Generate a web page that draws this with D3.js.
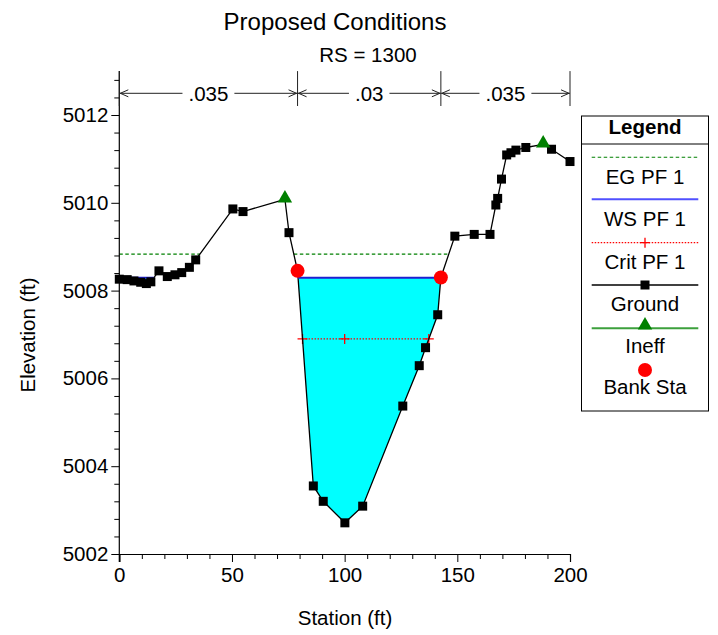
<!DOCTYPE html>
<html>
<head>
<meta charset="utf-8">
<script src="https://cdn.jsdelivr.net/npm/d3@7"></script>
<style>
  html, body { margin: 0; padding: 0; background: #fff; }
  svg { display: block; font-family: "Liberation Sans", Arial, sans-serif; }
</style>
</head>
<body>
<svg id="chart" width="718" height="635"></svg>
<script>
// Cross section RS 1300 – ground survey points (station ft, elevation ft)
const groundSta  = [0, 3.5, 6.5, 9.5, 12, 14, 17.6, 21.3, 24.7, 27.7, 31.1, 33.9, 50.4, 54.9,
                    73.5, 75.3, 79.1, 86.1, 90.5, 100.1, 108.0, 125.8, 133.1, 135.9, 141.3, 142.7,
                    148.9, 157.5, 164.5, 167.1, 167.9, 169.6, 171.9, 173.8, 176.0, 180.4, 188.1, 191.8, 200];
const groundElev = [5008.26, 5008.25, 5008.22, 5008.19, 5008.16, 5008.20, 5008.45, 5008.32, 5008.36, 5008.41, 5008.53, 5008.70, 5009.86, 5009.80,
                    5010.08, 5009.32, 5008.45, 5003.55, 5003.20, 5002.71, 5003.09, 5005.37, 5006.29, 5006.70, 5007.45, 5008.30,
                    5009.24, 5009.28, 5009.28, 5009.95, 5010.10, 5010.54, 5011.09, 5011.14, 5011.20, 5011.26, 5011.33, 5011.22, 5010.94];

// Ineffective flow limits and bank stations
const ineffSta = [73.5, 188.1];
const bankSta  = [79.1, 142.7];

// Profile PF 1 results
const egElev   = 5008.83;
const wsElev   = 5008.29;
const critElev = 5006.90;
const critMarkSta = 100;

// Manning's n by reach segment (boundaries at ends and bank stations)
const nBounds = [0, 79.1, 142.7, 200];
const nValues = [".035", ".03", ".035"];

// Axis ticks
const xMajor = [0, 50, 100, 150, 200];
const yMajor = [5002, 5004, 5006, 5008, 5010, 5012];

const title = "Proposed Conditions";
const subtitle = "RS = 1300";

const legendItems = ["EG PF 1", "WS PF 1", "Crit PF 1", "Ground", "Ineff", "Bank Sta"];

// ---------------------------------------------------------------
const FS = 20.5;
const svg = d3.select("#chart");
const margin = { left: 119.3, right: 570, top: 71.1, bottom: 554 };

const x = d3.scaleLinear().domain([0, 200]).range([margin.left, margin.right]);
const y = d3.scaleLinear().domain([5002, 5013]).range([margin.bottom, margin.top]);

const ground = groundSta.map((s, i) => ({ s, e: groundElev[i] }));

// Spans where the ground lies below a given water level
function wetSpans(level) {
  const spans = [];
  let cur = null;
  for (let i = 0; i < ground.length; i++) {
    const p = ground[i];
    if (p.e <= level) {
      if (!cur) {
        if (i === 0) cur = [{ s: p.s, e: p.e }];
        else {
          const q = ground[i - 1];
          const t = (level - q.e) / (p.e - q.e);
          cur = [{ s: q.s + t * (p.s - q.s), e: level }];
        }
      }
      cur.push(p);
    } else if (cur) {
      const q = ground[i - 1];
      const t = (level - q.e) / (p.e - q.e);
      cur.push({ s: q.s + t * (p.s - q.s), e: level });
      spans.push(cur);
      cur = null;
    }
  }
  if (cur) spans.push(cur);
  return spans;
}

const plot = svg.append("g");

// Water fill below WS
const wsSpans = wetSpans(wsElev);
wsSpans.forEach(sp => {
  const pts = sp.map(p => [x(p.s), y(p.e)]);
  plot.append("path")
    .attr("d", d3.line()(pts) + "Z")
    .attr("fill", "#00ffff")
    .attr("stroke", "none");
});

// EG line
wetSpans(egElev).forEach(sp => {
  plot.append("line")
    .attr("x1", x(sp[0].s)).attr("x2", x(sp[sp.length - 1].s))
    .attr("y1", y(egElev)).attr("y2", y(egElev))
    .attr("stroke", "#008000").attr("stroke-width", 1.1)
    .attr("stroke-dasharray", "3.5,2.5");
});

// Critical depth line with markers
wetSpans(critElev).forEach(sp => {
  const s0 = sp[0].s, s1 = sp[sp.length - 1].s;
  plot.append("line")
    .attr("x1", x(s0)).attr("x2", x(s1))
    .attr("y1", y(critElev)).attr("y2", y(critElev))
    .attr("stroke", "#ff0000").attr("stroke-width", 1.2)
    .attr("stroke-dasharray", "1.5,1.5");
  [s0, critMarkSta, s1].forEach(s => {
    plot.append("path")
      .attr("d", `M${x(s) - 5},${y(critElev)}h10M${x(s)},${y(critElev) - 5}v10`)
      .attr("stroke", "#ff0000").attr("stroke-width", 1.3);
  });
});

// Ground line
plot.append("path")
  .attr("d", d3.line().x(d => x(d.s)).y(d => y(d.e))(ground))
  .attr("fill", "none").attr("stroke", "#000").attr("stroke-width", 1.3);

// WS line
wsSpans.forEach(sp => {
  plot.append("line")
    .attr("x1", x(sp[0].s)).attr("x2", x(sp[sp.length - 1].s))
    .attr("y1", y(wsElev)).attr("y2", y(wsElev))
    .attr("stroke", "#1f1fd0").attr("stroke-width", 2);
});

// Ground point markers
const special = new Set([...ineffSta, ...bankSta]);
plot.selectAll("rect.gp")
  .data(ground.filter(d => !special.has(d.s)))
  .join("rect")
  .attr("class", "gp")
  .attr("x", d => x(d.s) - 4.5).attr("y", d => y(d.e) - 4.5)
  .attr("width", 9).attr("height", 9)
  .attr("fill", "#000");

function elevAt(s) {
  return ground.find(d => d.s === s).e;
}

// Ineffective flow markers
const tri = d3.symbol().type(d3.symbolTriangle).size(90);
plot.selectAll("path.ineff")
  .data(ineffSta)
  .join("path")
  .attr("class", "ineff")
  .attr("d", tri)
  .attr("transform", s => `translate(${x(s)},${y(elevAt(s)) - 1})`)
  .attr("fill", "#008000");

// Bank station markers
plot.selectAll("circle.bank")
  .data(bankSta)
  .join("circle")
  .attr("class", "bank")
  .attr("cx", s => x(s)).attr("cy", s => y(elevAt(s)))
  .attr("r", 7)
  .attr("fill", "#ff0000");

// Axes
const yAxis = svg.append("g")
  .attr("transform", `translate(${margin.left},0)`)
  .call(d3.axisLeft(y).tickValues(yMajor).tickSize(8).tickPadding(3).tickFormat(d3.format("d")));
const yMinor = d3.range(0, 28).map(i => 5002 + i * 0.4).filter(v => Math.abs(v - Math.round(v / 2) * 2) > 0.01);
svg.append("g")
  .attr("transform", `translate(${margin.left},0)`)
  .call(d3.axisLeft(y).tickValues(yMinor).tickSize(5).tickFormat(""))
  .call(g => g.select(".domain").remove());

const xAxis = svg.append("g")
  .attr("transform", `translate(0,${margin.bottom})`)
  .call(d3.axisBottom(x).tickValues(xMajor).tickSize(8).tickPadding(5).tickFormat(d3.format("d")));
const xMinor = d3.range(10, 200, 10).filter(v => v % 50 !== 0);
svg.append("g")
  .attr("transform", `translate(0,${margin.bottom})`)
  .call(d3.axisBottom(x).tickValues(xMinor).tickSize(5).tickFormat(""))
  .call(g => g.select(".domain").remove());

svg.selectAll(".domain").attr("stroke", "#000").attr("stroke-width", 1.2);
svg.selectAll(".tick line").attr("stroke", "#000");
[yAxis, xAxis].forEach(g => g.selectAll("text")
  .attr("font-size", FS).attr("fill", "#000")
  .attr("font-family", "'Liberation Sans', Arial, sans-serif"));
yAxis.select(".domain").attr("d", `M0,${margin.top}V${margin.bottom + 8}`);

// Titles and axis labels
svg.append("text").attr("x", 335).attr("y", 30).attr("text-anchor", "middle")
  .attr("font-size", 24).text(title);
svg.append("text").attr("x", 368).attr("y", 62).attr("text-anchor", "middle")
  .attr("font-size", FS).text(subtitle);
svg.append("text").attr("x", 345).attr("y", 625).attr("text-anchor", "middle")
  .attr("font-size", FS).text("Station (ft)");
svg.append("text").attr("transform", "translate(35,335) rotate(-90)").attr("text-anchor", "middle")
  .attr("font-size", FS).text("Elevation (ft)");

// Manning's n annotation
const nY = 93.3;
const nG = svg.append("g").attr("stroke", "#222").attr("stroke-width", 1);
nBounds.forEach(s => {
  nG.append("line").attr("x1", x(s)).attr("x2", x(s)).attr("y1", margin.top).attr("y2", 106);
});
nValues.forEach((v, i) => {
  const a = x(nBounds[i]), b = x(nBounds[i + 1]);
  const mid = (a + b) / 2;
  const t = svg.append("text").attr("x", mid).attr("y", nY + 7.5)
    .attr("text-anchor", "middle").attr("font-size", FS).text(v);
  const w = t.node().getComputedTextLength();
  const gap = w / 2 + 6;
  nG.append("line").attr("x1", a).attr("x2", mid - gap).attr("y1", nY).attr("y2", nY);
  nG.append("line").attr("x1", mid + gap).attr("x2", b).attr("y1", nY).attr("y2", nY);
  nG.append("path").attr("fill", "none")
    .attr("d", `M${a + 9},${nY - 3.5}L${a + 1},${nY}L${a + 9},${nY + 3.5}`);
  nG.append("path").attr("fill", "none")
    .attr("d", `M${b - 9},${nY - 3.5}L${b - 1},${nY}L${b - 9},${nY + 3.5}`);
});

// Legend
const lg = svg.append("g");
const lx0 = 581.5, lx1 = 708.5, ly0 = 116, ly1 = 411;
const lcx = (lx0 + lx1) / 2;
lg.append("rect").attr("x", lx0).attr("y", ly0).attr("width", lx1 - lx0).attr("height", ly1 - ly0)
  .attr("fill", "#fff").attr("stroke", "#000").attr("stroke-width", 1);
lg.append("text").attr("x", lcx).attr("y", 134).attr("text-anchor", "middle")
  .attr("font-size", FS).attr("font-weight", "bold").text("Legend");
lg.append("line").attr("x1", lx0).attr("x2", lx1).attr("y1", 144).attr("y2", 144).attr("stroke", "#000");

const symY = [157.3, 199.3, 242.7, 285, 328.3, 370];
const txtY = [176.7, 218.3, 261.7, 303.3, 345, 386.7];
const la = 591.7, lb = 698.3;
// EG
lg.append("line").attr("x1", la).attr("x2", lb).attr("y1", symY[0]).attr("y2", symY[0])
  .attr("stroke", "#008000").attr("stroke-width", 1.1).attr("stroke-dasharray", "3.5,2.5");
// WS
lg.append("line").attr("x1", la).attr("x2", lb).attr("y1", symY[1]).attr("y2", symY[1])
  .attr("stroke", "#5050ff").attr("stroke-width", 2);
// Crit
lg.append("line").attr("x1", la).attr("x2", lb).attr("y1", symY[2]).attr("y2", symY[2])
  .attr("stroke", "#ff0000").attr("stroke-width", 1.2).attr("stroke-dasharray", "1.5,1.5");
lg.append("path").attr("d", `M${lcx - 5},${symY[2]}h10M${lcx},${symY[2] - 5}v10`)
  .attr("stroke", "#ff0000").attr("stroke-width", 1.3);
// Ground
lg.append("line").attr("x1", la).attr("x2", lb).attr("y1", symY[3]).attr("y2", symY[3])
  .attr("stroke", "#000").attr("stroke-width", 1.3);
lg.append("rect").attr("x", lcx - 4.5).attr("y", symY[3] - 4.5).attr("width", 9).attr("height", 9).attr("fill", "#000");
// Ineff
lg.append("line").attr("x1", la).attr("x2", lb).attr("y1", symY[4]).attr("y2", symY[4])
  .attr("stroke", "#3ca03c").attr("stroke-width", 2);
lg.append("path").attr("d", tri).attr("transform", `translate(${lcx},${symY[4] - 3})`).attr("fill", "#008000");
// Bank
lg.append("circle").attr("cx", lcx).attr("cy", symY[5]).attr("r", 7).attr("fill", "#ff0000");

legendItems.forEach((t, i) => {
  lg.append("text").attr("x", lcx).attr("y", txtY[i] + 7.5).attr("text-anchor", "middle")
    .attr("font-size", FS).text(t);
});
</script>
</body>
</html>
